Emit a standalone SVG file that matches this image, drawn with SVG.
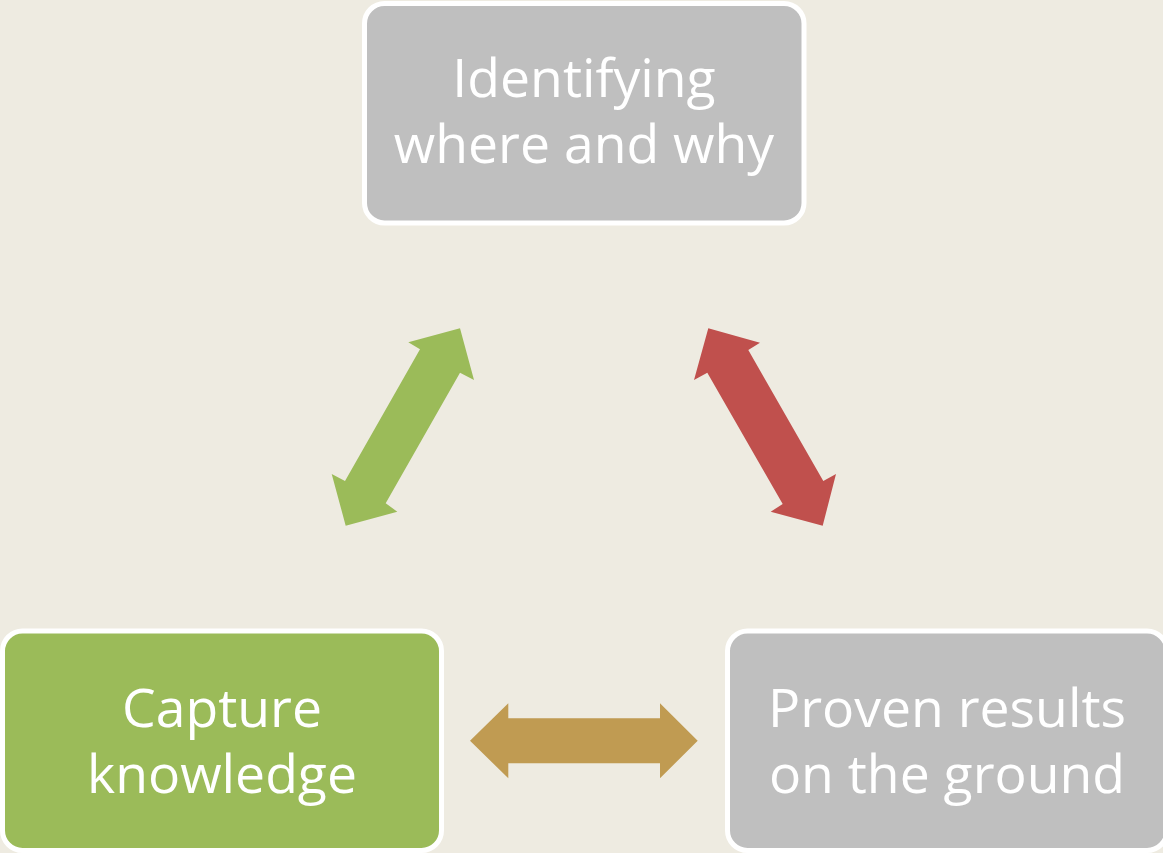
<svg xmlns="http://www.w3.org/2000/svg" width="1163" height="853" viewBox="0 0 1163 853">
<style>
.box{stroke:#FFFFFF;stroke-width:5}
.gray{fill:#BFBFBF}
.green{fill:#9BBB59}
.lbl{font-family:"Open Sans","Liberation Sans",sans-serif;font-size:53.5px;fill:#FFFFFF;text-anchor:middle}
</style>
<rect x="0" y="0" width="1163" height="853" fill="#EEEBE1"/>
<g id="connectors">
<polygon fill="#9BBB59" points="460,328.3 474,380 460,372.7 385.7,503.3 397.3,511.7 345.7,525.7 331.7,474 345,481 420,349.3 408.3,342.3"/>
<polygon fill="#C0504D" points="708.3,328.3 760,342.7 748.3,350 823.3,481 836,474 822.7,525.7 770.7,511.7 782.7,504 707.3,372.7 694,380"/>
<polygon fill="#C09B52" points="470,740.7 508.3,703.3 508.3,718.3 660,718.3 660,703.3 697.7,740.7 660,778.3 660,763.3 508.3,763.3 508.3,778.3"/>
</g>
<g id="node-top">
<rect class="box gray" x="364.5" y="3.5" width="439.5" height="219.5" rx="20"/>
<text class="lbl" x="584" y="97">Identifying</text>
<text class="lbl" x="584" y="163">where and why</text>
</g>
<g id="node-left">
<rect class="box green" x="2.5" y="631" width="439" height="219.5" rx="20"/>
<text class="lbl" x="222" y="727">Capture</text>
<text class="lbl" x="222" y="793">knowledge</text>
</g>
<g id="node-right">
<rect class="box gray" x="727.5" y="631" width="439.5" height="219.5" rx="20"/>
<text class="lbl" x="947" y="727">Proven results</text>
<text class="lbl" x="947" y="793">on the ground</text>
</g>
</svg>
